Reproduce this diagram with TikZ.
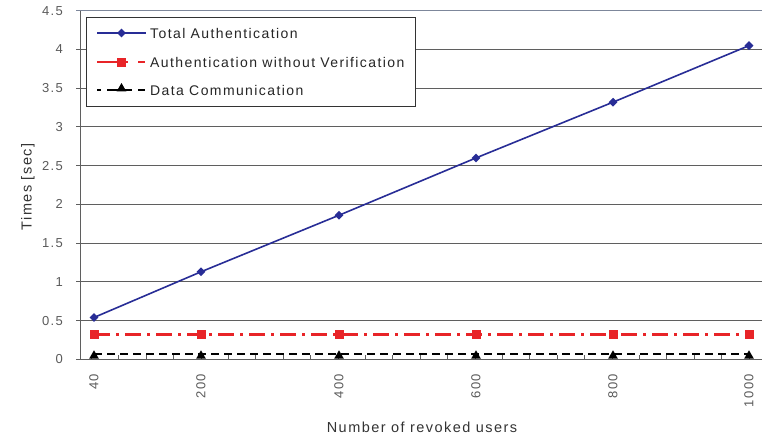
\documentclass[tikz,border=0pt]{standalone}
\usepackage{fontspec}
\setmainfont{Liberation Sans}
\newfontfamily\widefont[LetterSpace=10]{Liberation Sans}
\usetikzlibrary{shapes.geometric}
\definecolor{bluel}{RGB}{40,45,150}
\definecolor{redl}{RGB}{232,36,40}
\definecolor{gridc}{RGB}{95,95,95}
\definecolor{topc}{RGB}{125,135,155}
\definecolor{labc}{RGB}{90,90,90}
\tikzset{
  gridline/.style={gridc, line width=1pt},
  tickl/.style={font=\widefont\fontsize{13}{13}\selectfont, text=labc, anchor=east, inner sep=0pt},
  xlab/.style={font=\widefont\fontsize{13}{13}\selectfont, text=labc, rotate=90, anchor=east, inner sep=0pt},
  bluestyle/.style={bluel, line width=1.6pt},
  redstyle/.style={redl, line width=2.4pt, dash pattern=on 16pt off 6pt on 3pt off 6pt},
  blackstyle/.style={black, line width=2.4pt, dash pattern=on 8pt off 5pt},
  dmark/.style={diamond, fill=bluel, inner sep=0pt, minimum size=9pt},
  smark/.style={rectangle, fill=redl, inner sep=0pt, minimum size=9pt},
  tmark/.style={regular polygon, regular polygon sides=3, fill=black, inner sep=0pt, minimum size=11pt},
  legtext/.style={font=\widefont\fontsize{14}{14}\selectfont, anchor=west, inner sep=0pt, text=black!85},
  title/.style={font=\widefont\fontsize{14.5}{14.5}\selectfont, text=black!80, inner sep=0pt}
}
\begin{document}
\begin{tikzpicture}[x=1pt,y=-1pt]
\useasboundingbox (0,0) rectangle (762,437);
\def\ya{359.3}
\def\ys{77.45}
% grid lines and y labels
\foreach \v/\lab in {0.5/0.5,1/1,1.5/1.5,2/2,2.5/2.5,3/3,3.5/3.5,4/4} {
  \pgfmathsetmacro\yy{\ya-\ys*\v}
  \draw[gridline] (76,\yy) -- (762,\yy);
  \node[tickl] at (63,\yy) {\lab};
}
\draw[topc, line width=1pt] (76,10.8) -- (762,10.8);
\node[tickl] (l45) at (63,10.8) {4.5};
\node[tickl] (l0) at (63,\ya) {0};
% axes
\coordinate (ax0) at (80,\ya);
\coordinate (axtop) at (80,10.8);
\coordinate (axr) at (762,\ya);
\draw[gridc, line width=1pt] (axtop) -- (ax0) -- (axr);
\draw[gridc, line width=1pt] (76,\ya) -- (ax0);
% minor x ticks
\foreach \k in {0,...,24} {
  \pgfmathsetmacro\xx{91.4+27.4*\k}
  \draw[gridc, line width=0.8pt] (\xx,\ya) -- (\xx,\ya-4);
}
% x labels
\foreach \xx/\lab/\n in {94/40/a,201/200/b,339/400/c,476/600/d,613/800/e,749/1000/f} {
  \node[xlab] (x\n) at (\xx,374) {\lab};
}
% data coordinates
\foreach \xx/\tv/\n in {94/0.54/1,201/1.13/2,339/1.86/3,476/2.60/4,613/3.32/5,749/4.05/6} {
  \coordinate (t\n) at (\xx,{\ya-\ys*\tv});
  \coordinate (r\n) at (\xx,{\ya-\ys*0.32});
  \coordinate (k\n) at (\xx,{\ya-\ys*0.065});
}
\draw[blackstyle] (k1) -- (k2) -- (k3) -- (k4) -- (k5) -- (k6);
\draw[redstyle] (r1) -- (r2) -- (r3) -- (r4) -- (r5) -- (r6);
\draw[bluestyle] (t1) -- (t2) -- (t3) -- (t4) -- (t5) -- (t6);
\foreach \n in {1,...,6} {
  \node[tmark] (mk\n) at ([yshift=-1.5pt]k\n) {};
  \node[smark] (mr\n) at (r\n) {};
  \node[dmark] (mt\n) at (t\n) {};
}
% legend
\node[draw=black!80, fill=white, line width=1pt, minimum width=329pt, minimum height=89pt, inner sep=0pt, anchor=north west] (legend) at (86,16.7) {};
\coordinate (la1) at (97,33);  \coordinate (lb1) at (146,33);
\coordinate (la2) at (97,62);  \coordinate (lb2) at (145,62);
\coordinate (la3) at (97,90);  \coordinate (lb3) at (145,90);
\draw[bluestyle] (la1) -- (lb1);
\node[dmark] (lm1) at (121.5,33) {};
\draw[redl, line width=2.4pt] (la2) -- (128,62);
\draw[redl, line width=2.4pt] (138,62) -- (lb2);
\node[smark] (lm2) at (121.5,62) {};
\draw[black, line width=2.4pt] (97,90) -- (101,90);
\draw[black, line width=2.4pt] (107,90) -- (132,90);
\draw[black, line width=2.4pt] (138,90) -- (lb3);
\node[tmark] (lm3) at (121.5,88.5) {};
\node[legtext] (lt1) at (150,33) {Total Authentication};
\node[legtext] (lt2) at (150,62) {Authentication without Verification};
\node[legtext] (lt3) at (150,90) {Data Communication};
% titles
\node[title, rotate=90] (ytitle) at (28,187) {Times [sec]};
\node[title] (xtitle) at (422,427) {Number of revoked users};
\end{tikzpicture}
\end{document}
